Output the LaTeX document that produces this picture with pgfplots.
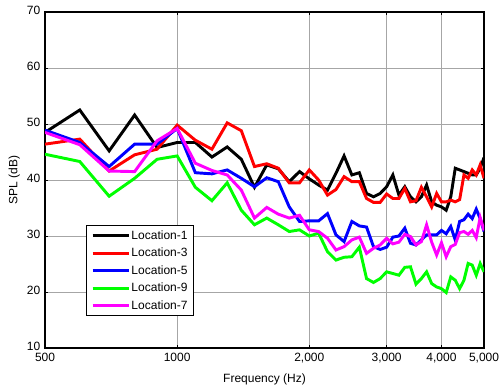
\documentclass[border=0pt]{standalone}
\usepackage{pgfplots}
\usepackage{pgfplotstable}
\pgfplotsset{compat=1.18}
\usepackage{fontspec}
\setmainfont{Liberation Sans}

% Sound pressure level per measurement location, 100 Hz steps
\pgfplotstableread{
f     L1    L3    L5    L9    L7
500   48.5  46.4  48.9  44.6  48.5
600   52.5  47.3  46.7  43.3  46.3
700   45.2  41.6  42.4  37.1  41.6
800   51.6  44.5  46.4  40.3  41.5
900   45.8  45.5  46.4  43.7  47.0
1000  46.7  49.8  49.2  44.3  49.2
1100  46.7  47.1  41.3  38.7  43.0
1200  44.1  45.5  41.1  36.3  41.7
1300  45.9  50.2  41.8  39.5  40.9
1400  43.7  48.8  40.3  34.6  38.2
1500  38.7  42.4  38.8  32.0  33.2
1600  42.7  42.9  40.4  33.2  35.1
1700  42.0  42.1  39.7  32.0  33.9
1800  39.7  39.5  35.2  30.8  33.2
1900  41.5  39.5  32.6  31.1  33.7
2000  40.2  41.8  32.7  30.0  31.1
2100  39.1  40.0  32.7  30.5  30.8
2200  38.2  37.3  34.0  27.2  29.6
2300  41.2  38.3  30.2  25.7  27.5
2400  44.3  40.6  29.0  26.2  28.1
2500  40.9  39.7  32.6  26.3  29.3
2600  41.3  39.7  31.8  28.0  29.8
2700  37.6  36.7  31.6  22.4  26.9
2800  37.0  36.0  28.1  21.7  27.8
2900  37.6  36.0  27.6  22.4  28.4
3000  38.8  37.5  28.0  23.6  29.6
3100  40.9  36.7  29.8  23.3  28.6
3200  37.3  36.7  30.0  23.0  28.9
3300  38.8  38.5  31.4  24.4  30.3
3400  37.0  36.1  28.7  24.5  29.9
3500  36.1  36.3  28.4  21.4  28.4
3600  37.0  38.7  29.3  22.4  29.0
3700  39.1  37.0  30.2  23.6  32.0
3800  36.1  35.2  30.2  21.5  28.9
3900  35.5  37.6  30.2  20.9  26.6
4000  35.2  36.1  31.0  20.6  28.8
4100  34.6  36.1  30.4  19.9  26.3
4200  37.0  36.4  31.7  22.7  28.1
4300  42.1  36.1  29.3  22.1  28.5
4400  41.8  36.5  32.6  20.6  30.6
4500  41.5  40.9  32.9  22.1  30.8
4600  41.2  40.3  33.9  25.1  30.3
4700  40.9  41.8  33.1  24.8  31.0
4800  40.9  40.9  34.8  23.0  29.7
4900  42.1  42.7  33.1  25.1  33.3
5000  44.0  40.3  30.8  23.6  31.0
}\spl

\begin{document}
\begin{tikzpicture}
\useasboundingbox (-33.75pt,-33pt) rectangle (340.5pt,261pt);
\begin{axis}[
  at={(0,0)}, anchor=south west,
  scale only axis,
  width=329.25pt, height=252pt,
  xmode=log,
  xmin=500, xmax=5000,
  ymin=10, ymax=70,
  xtick={500,1000,2000,3000,4000,5000},
  xticklabels={500,1000,{2,000},{3,000},{4,000},{5,000}},
  ytick={10,20,30,40,50,60,70},
  minor xtick={},
  log ticks with fixed point,
  grid=major,
  major grid style={gray!70, line width=0.6pt},
  axis line style={black, line width=0.9pt},
  tick style={black, line width=0.5pt},
  major tick length=2.5pt,
  tick align=inside,
  font=\fontsize{9}{10.8}\selectfont,
  /pgf/number format/assume math mode=true,
  ticklabel style={font=\fontsize{9}{10.8}\selectfont},
  xticklabel style={yshift=0pt},
  yticklabel style={yshift=1pt},
  xlabel={Frequency (Hz)},
  ylabel={SPL (dB)},
  xlabel style={yshift=-1.5pt},
  ylabel style={yshift=-1.5pt},
  legend style={
    at={(0.0934,0.365)}, anchor=north west,
    font=\fontsize{9}{10}\selectfont,
    draw=black, line width=0.8pt,
    inner xsep=3.5pt, inner ysep=2pt,
    nodes={inner sep=1pt, text height=7pt, text depth=2pt},
    row sep=2.1pt,
    cells={anchor=west},
  },
  legend image code/.code={\draw[#1, line width=2.2pt] (0pt,0pt) -- (27pt,0pt);},
  every axis plot/.append style={line width=2.2pt, line join=miter, no markers},
]
\addplot[black]                table[x=f,y=L1]{\spl};
\addplot[color={rgb,255:red,255;green,0;blue,0}]   table[x=f,y=L3]{\spl};
\addplot[color={rgb,255:red,0;green,0;blue,255}]   table[x=f,y=L5]{\spl};
\addplot[color={rgb,255:red,0;green,255;blue,0}]   table[x=f,y=L9]{\spl};
\addplot[color={rgb,255:red,255;green,0;blue,255}] table[x=f,y=L7]{\spl};
\legend{Location-1,Location-3,Location-5,Location-9,Location-7}
\end{axis}
\end{tikzpicture}
\end{document}
